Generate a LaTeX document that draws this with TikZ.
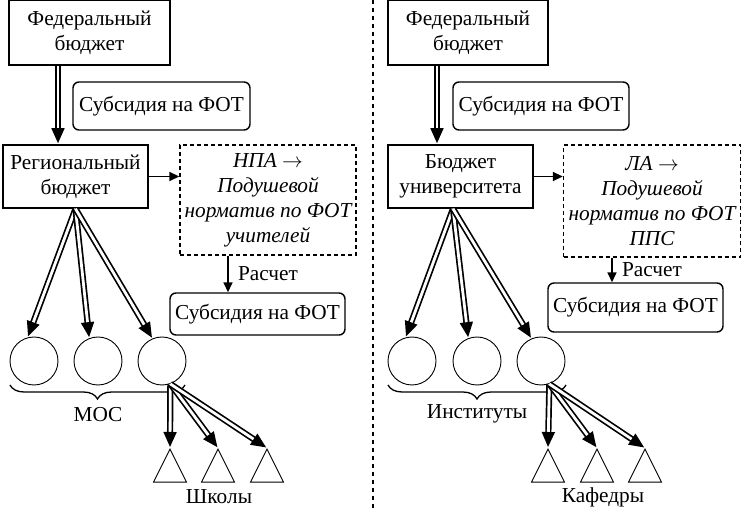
\documentclass[tikz,border=0pt]{standalone}
\usepackage{fontspec}
\setmainfont{Liberation Serif}
\usetikzlibrary{arrows.meta,shapes.geometric,decorations.pathreplacing}
\tikzset{
  box/.style={draw, line width=1.6pt, align=center, inner sep=0pt},
  rbox/.style={draw, line width=1.4pt, rounded corners=6pt, align=center, inner sep=0pt},
  dbox/.style={draw, line width=1.4pt, dash pattern=on 4pt off 3pt, align=center, inner sep=0pt,
    font=\fontsize{21.3}{25}\selectfont\itshape},
  circ/.style={draw, circle, line width=0.9pt, minimum size=48pt, inner sep=0pt},
  tri/.style={draw, isosceles triangle, shape border rotate=90, isosceles triangle stretches,
    minimum width=33pt, minimum height=33pt, line width=0.9pt, inner sep=0pt, anchor=apex},
  dbl/.style={double, double distance=2.8pt, line width=1.7pt, shorten >=1pt,
    -{Triangle[length=15pt,width=13pt]}},
  arr/.style={line width=1.6pt, -{Triangle[length=10pt,width=9pt]}},
  brc/.style={decorate, decoration={brace, mirror, amplitude=14pt}, line width=1.3pt},
  sep/.style={line width=1.5pt, dash pattern=on 4pt off 4pt}
}
\begin{document}
\begin{tikzpicture}[x=1pt,y=-1pt,font=\fontsize{21.3}{25}\selectfont]
\useasboundingbox (0,0) rectangle (742,510);
% left: school budget
\node[box, minimum width=161pt, minimum height=65pt] (fedL) at (89.5,32.5) {Федеральный\\бюджет};
\node[rbox, minimum width=177pt, minimum height=48pt] (subL) at (161.5,106) {Субсидия на ФОТ};
\node[box, minimum width=145pt, minimum height=63pt] (regL) at (75.5,176.5) {Региональный\\бюджет};
\node[dbox, minimum width=176pt, minimum height=110pt] (npaL) at (268,200)
  {НПА $\rightarrow$\\Подушевой\\норматив по ФОТ\\учителей};
\node[rbox, minimum width=175pt, minimum height=42pt] (sub2L) at (257.5,314) {Субсидия на ФОТ};
\node[circ] (c1L) at (34,361) {};
\node[circ] (c2L) at (98,361) {};
\node[circ] (c3L) at (162,361) {};
\node[tri] (t1L) at (170,448) {};
\node[tri] (t2L) at (218,448) {};
\node[tri] (t3L) at (267,448) {};
\node (mosL) at (98,415) {МОС};
\node (schL) at (219,497) {Школы};
\draw[dbl] ([xshift=-31.5pt]fedL.south) -- ([xshift=-17.5pt]regL.north);
\draw[arr] (regL.east) -- (regL.east -| npaL.west);
\draw[arr] ([xshift=-40pt]npaL.south) -- ([xshift=-40pt]npaL.south |- sub2L.north)
  node[midway, right=6pt] (rasL) {Расчет};
\foreach \c/\a in {c1L/105, c2L/111, c3L/113}
  \draw[dbl] (regL.south) -- (\c.\a);
\draw[brc] (10,385) -- (185,385);
\foreach \t in {t1L,t2L,t3L}
  \draw[dbl] (c3L.-70) -- (\t.apex);

\draw[sep] (373,0) -- (373,510);

% right: university budget
\node[box, minimum width=160pt, minimum height=65pt] (fedR) at (468,32.5) {Федеральный\\бюджет};
\node[rbox, minimum width=176pt, minimum height=48pt] (subR) at (541,106) {Субсидия на ФОТ};
\node[box, minimum width=145pt, minimum height=63pt] (uniR) at (460.5,176.5) {Бюджет\\университета};
\node[dbox, minimum width=177pt, minimum height=112pt] (laR) at (652,201)
  {ЛА $\rightarrow$\\Подушевой\\норматив по ФОТ\\ППС};
\node[rbox, minimum width=175pt, minimum height=49pt] (sub2R) at (635.5,307.5) {Субсидия на ФОТ};
\node[circ] (c1R) at (412,361) {};
\node[circ] (c2R) at (477,361) {};
\node[circ] (c3R) at (541,361) {};
\node[tri] (t1R) at (548,448) {};
\node[tri] (t2R) at (597,448) {};
\node[tri] (t3R) at (645,448) {};
\node (instR) at (477,414) {Институты};
\node (kafR) at (603,497) {Кафедры};
\draw[dbl] ([xshift=-31pt]fedR.south) -- ([xshift=-23.5pt]uniR.north);
\draw[arr] (uniR.east) -- (uniR.east -| laR.west);
\draw[arr] ([xshift=-40pt]laR.south) -- ([xshift=-40pt]laR.south |- sub2R.north)
  node[midway, right=6pt] (rasR) {Расчет};
\foreach \c/\a in {c1R/105, c2R/111, c3R/113}
  \draw[dbl] ([xshift=-7.5pt]uniR.south) -- (\c.\a);
\draw[brc] (388,385) -- (566,385);
\foreach \t in {t1R,t2R,t3R}
  \draw[dbl] (c3R.-70) -- (\t.apex);
\end{tikzpicture}
\end{document}
